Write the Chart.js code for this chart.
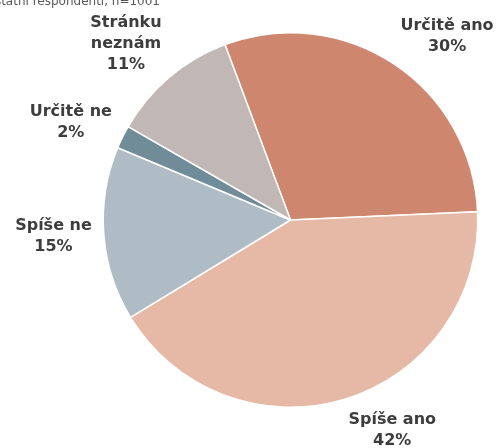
<!DOCTYPE html>
<html>
<head>
<meta charset="utf-8">
<script src="https://cdn.jsdelivr.net/npm/chart.js@4/dist/chart.umd.min.js"></script>
<style>
    html, body { margin: 0; padding: 0; background: #ffffff; }
    #wrap { position: relative; width: 500px; height: 448px; overflow: hidden; }
</style>
</head>
<body>
<div id="wrap"><canvas id="pieChart" width="500" height="448"></canvas></div>
<script>
// Chart data
const categories = ['Určitě ano', 'Spíše ano', 'Spíše ne', 'Určitě ne', 'Stránku neznám'];
const shares = [30, 42, 15, 2, 11];
const sliceColors = ['#cf866e', '#e5b9a5', '#afbcc5', '#718c99', '#c1b7b4'];
const labelLines = [['Určitě ano'], ['Spíše ano'], ['Spíše ne'], ['Určitě ne'], ['Stránku', 'neznám']];
const subtitleText = 'Ostatní respondenti, n=1001';

const fontFamily = '"DejaVu Sans", Verdana, sans-serif';
const lineHeight = 21;

// Draw outside labels (Excel style "outside end") and the clipped subtitle
const outsideLabels = {
    id: 'outsideLabels',
    afterDatasetsDraw(chart) {
        const ctx = chart.ctx;
        const meta = chart.getDatasetMeta(0);
        ctx.save();

        // subtitle (top of it is cut off, like in the source image)
        ctx.font = '12px ' + fontFamily;
        ctx.fillStyle = '#595959';
        ctx.textAlign = 'right';
        ctx.textBaseline = 'alphabetic';
        ctx.fillText(subtitleText, 160, 5);

        ctx.font = 'bold 16px ' + fontFamily;
        ctx.fillStyle = '#3d3d3d';
        ctx.textAlign = 'center';
        ctx.textBaseline = 'middle';

        meta.data.forEach((arc, i) => {
            const p = arc.getProps(['x', 'y', 'startAngle', 'endAngle', 'outerRadius'], true);
            const mid = (p.startAngle + p.endAngle) / 2;
            const lines = labelLines[i].concat([shares[i] + '%']);
            const w = Math.max(...lines.map(t => ctx.measureText(t).width));
            const h = lines.length * lineHeight;
            const r = p.outerRadius + 12;
            const cos = Math.cos(mid), sin = Math.sin(mid);
            const cx = p.x + cos * r + Math.sign(cos) * w / 2;
            const cy = p.y + sin * r + sin * h / 2;
            lines.forEach((t, j) => {
                ctx.fillText(t, cx, cy - h / 2 + lineHeight * (j + 0.5));
            });
        });
        ctx.restore();
    }
};

new Chart(document.getElementById('pieChart').getContext('2d'), {
    type: 'pie',
    data: {
        labels: categories,
        datasets: [{
            data: shares,
            backgroundColor: sliceColors,
            borderColor: '#ffffff',
            borderWidth: 1.5,
            hoverOffset: 0
        }]
    },
    options: {
        responsive: false,
        animation: false,
        rotation: -20.5,
        layout: {
            padding: { left: 102, right: 21, top: 32, bottom: 40 }
        },
        plugins: {
            legend: { display: false },
            tooltip: { enabled: false }
        }
    },
    plugins: [outsideLabels]
});
</script>
</body>
</html>
